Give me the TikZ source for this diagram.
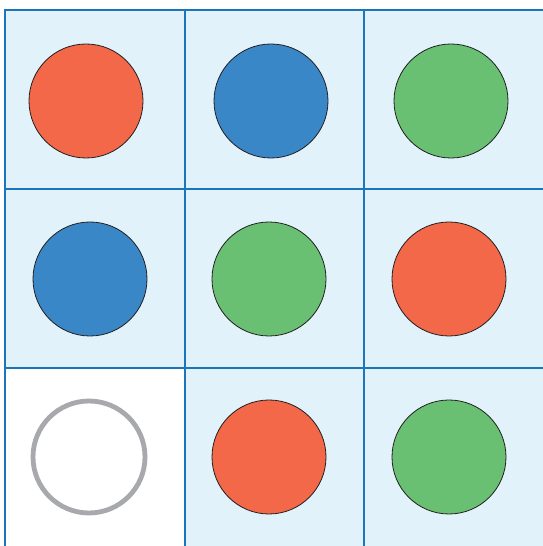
\documentclass[tikz,border=0pt]{standalone}
\definecolor{cellfill}{HTML}{E1F2FA}
\definecolor{gridline}{HTML}{1B75BB}
\definecolor{dotred}{HTML}{F26849}
\definecolor{dotblue}{HTML}{3A87C8}
\definecolor{dotgreen}{HTML}{69C072}
\definecolor{ringgray}{HTML}{A7A9AC}
\definecolor{outline}{HTML}{231F20}
\tikzset{
  dot/.style={circle, draw=outline, line width=0.8pt, minimum size=114pt, inner sep=0pt},
  ring/.style={circle, draw=ringgray, line width=4.8pt, minimum size=112pt, inner sep=0pt, fill=white},
  gridln/.style={draw=gridline, line width=2pt}
}
\begin{document}
\begin{tikzpicture}[x=1pt,y=1pt]
\useasboundingbox (0,0) rectangle (542,546);
% cell backgrounds (y = 546 - pixel y)
\fill[cellfill] (5,0) rectangle (545,536);
\fill[white] (5,0) rectangle (185,178);
% grid
\draw[gridln] (5,-5) -- (5,536) -- (545,536);
\draw[gridln] (185,-5) -- (185,536);
\draw[gridln] (364,-5) -- (364,536);
\draw[gridln] (5,357) -- (545,357);
\draw[gridln] (5,178) -- (545,178);
% circles
\node[dot, fill=dotred]   (c11) at (86,445) {};
\node[dot, fill=dotblue]  (c12) at (271,445) {};
\node[dot, fill=dotgreen] (c13) at (451,445) {};
\node[dot, fill=dotblue]  (c21) at (90,267) {};
\node[dot, fill=dotgreen] (c22) at (269,267) {};
\node[dot, fill=dotred]   (c23) at (449,267) {};
\node[ring]               (c31) at (89,89) {};
\node[dot, fill=dotred]   (c32) at (269,89) {};
\node[dot, fill=dotgreen] (c33) at (449,89) {};
\end{tikzpicture}
\end{document}
